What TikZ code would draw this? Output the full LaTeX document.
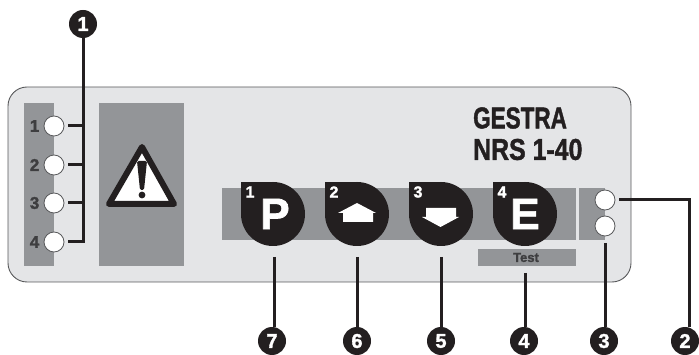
\documentclass[tikz,border=0pt]{standalone}
\usepackage{fontspec}
\setmainfont{Liberation Sans}[BoldFeatures={FakeBold=1.6}]
\usepackage{xcolor}
\usetikzlibrary{calc}
\definecolor{panelc}{RGB}{228,229,231}
\definecolor{stripc}{RGB}{147,149,152}
\definecolor{edgec}{RGB}{88,89,91}
\definecolor{inkc}{RGB}{35,31,32}
\tikzset{
  callout/.style={circle,fill=inkc,text=white,inner sep=0pt,minimum size=28pt,font=\fontsize{20}{20}\bfseries},
  led/.style={circle,draw=edgec,line width=0.8pt,fill=white,inner sep=0pt,minimum size=20pt},
  leader/.style={draw=inkc,line width=3pt},
  ledlabel/.style={text=edgec!70!black,font=\fontsize{17}{17}\bfseries,inner sep=0pt},
  knob/.style={circle,fill=inkc,inner sep=0pt,minimum size=64pt},
  knobnum/.style={text=white,font=\fontsize{16}{16}\bfseries,inner sep=0pt},
  knobkey/.style={text=white,font=\fontsize{44}{44}\bfseries,inner sep=0pt},
  brand/.style={text=inkc,anchor=west,inner sep=0pt,font=\fontsize{30}{30}\bfseries}
}
\begin{document}
\begin{tikzpicture}[x=1pt,y=-1pt]
\useasboundingbox (0,0) rectangle (699,355);
% panel
\draw[edgec,fill=panelc,line width=0.9pt,rounded corners=19pt] (8,87) rectangle (631,282);
% grey fields
\fill[stripc] (24,103) rectangle (54,266);
\fill[stripc] (99,103) rectangle (184,266);
\fill[stripc] (222,188) rectangle (576,240);
\fill[stripc] (579,188) rectangle (605,240);
\fill[stripc] (478,249) rectangle (576,266);
\node[text=edgec!70!black,inner sep=0pt,font=\fontsize{13}{13}\bfseries] (test) at (526,257.5) {Test};
% warning triangle
\draw[inkc,fill=white,line width=6pt,line join=round] (142,147) -- (174,204) -- (109,204) -- cycle;
\fill[inkc,rounded corners=1.5pt] (137,161) -- (147,161) -- (144,190) -- (140,190) -- cycle;
\fill[inkc] (142,195) circle (3.4pt);
% name plate
\node[brand,xscale=0.75] (gestra) at (473,118) {GESTRA};
\node[brand,xscale=0.83] (nrs) at (473,149.5) {NRS 1-40};
% leds
\foreach \y/\lab in {126/1,165/2,203/3,242/4}{
  \node[led] (led\lab) at (54,\y) {};
  \node[ledlabel,anchor=east] (num\lab) at (39.5,\y) {\lab};
}
\node[led] (ledtop) at (605,200) {};
\node[led] (ledbot) at (605,226) {};
% knobs
\foreach \x/\lab in {273/1,357/2,441/3,525/4}{
  \fill[inkc] (\x-32,182) rectangle (\x,214);
  \node[knob] (knob\lab) at (\x,214) {};
  \node[knobnum] (knobnum\lab) at (\x-23,192) {\lab};
}
\node[knobkey] (keyp) at (275,214) {P};
\node[knobkey] (keye) at (525,214) {E};
\fill[white] (357,203) -- (376,213) -- (373,213) -- (373,222) -- (343,222) -- (343,213) -- (338,213) -- cycle;
\fill[white] (426,208) -- (456,208) -- (456,217) -- (459,217) -- (440.5,227) -- (422,217) -- (426,217) -- cycle;
% callouts
\node[callout] (c1) at (83,24) {1};
\node[callout] (c2) at (685,341) {2};
\node[callout] (c3) at (604,341) {3};
\node[callout] (c4) at (524,341) {4};
\node[callout] (c5) at (441,341) {5};
\node[callout] (c6) at (357,341) {6};
\node[callout] (c7) at (272,341) {7};
% leaders
\coordinate (busend) at (83,243.5);
\draw[leader] (c1.south) -- (busend);
\foreach \y/\lab in {126/1,165/2,203/3,242/4}{
  \coordinate (stub\lab) at (68,\y);
  \draw[leader] (stub\lab) -- (83,\y);
}
\coordinate (free7) at (274,257);
\coordinate (free6) at (357,257);
\coordinate (free5) at (441,257);
\coordinate (free4) at (525,273);
\coordinate (free3) at (605,243);
\draw[leader] (free7) -- (free7|-c7.north);
\draw[leader] (free6) -- (free6|-c6.north);
\draw[leader] (free5) -- (free5|-c5.north);
\draw[leader] (free4) -- (free4|-c4.north);
\draw[leader] (free3) -- (free3|-c3.north);
\coordinate (free2) at (619,200);
\coordinate (bend2) at (689,200);
\draw[leader] (free2) -- (bend2) -- (bend2|-c2.north);
\end{tikzpicture}
\end{document}
